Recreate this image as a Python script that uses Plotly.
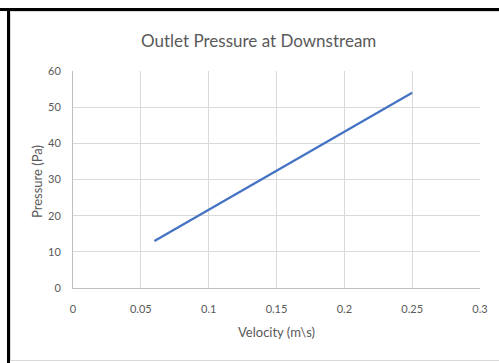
import plotly.graph_objects as go

# Data
velocity = [0.06, 0.25]
pressure = [13, 54]
x_ticks = [0, 0.05, 0.1, 0.15, 0.2, 0.25, 0.3]
x_tick_labels = ["0", "0.05", "0.1", "0.15", "0.2", "0.25", "0.3"]
y_ticks = [0, 10, 20, 30, 40, 50, 60]
title_text = "Outlet Pressure at Downstream"
x_title = "Velocity (m\\s)"
y_title = "Pressure (Pa)"

W, H = 499, 363
L, R, T, B = 73, 19, 71, 75
PW, PH = W - L - R, H - T - B

def px(x):
    return (x - L) / PW

def py(y):
    return (H - B - y) / PH

FONT = "Lato"
GRAY = "#595959"

fig = go.Figure()
fig.add_trace(go.Scatter(x=velocity, y=pressure, mode="lines",
                         line=dict(color="#4472C4", width=2.2), showlegend=False))

fig.update_layout(
    width=W, height=H,
    margin=dict(l=L, r=R, t=T, b=B),
    paper_bgcolor="white", plot_bgcolor="white",
    font=dict(family=FONT, color=GRAY),
    xaxis=dict(range=[0, 0.3], tickvals=x_ticks, ticktext=x_tick_labels,
               showgrid=True, gridcolor="#d9d9d9", gridwidth=1,
               showline=True, linecolor="#bfbfbf", linewidth=1, mirror=False,
               zeroline=False, ticks="", tickfont=dict(size=11, color=GRAY, family=FONT),
               ticklabelstandoff=11),
    yaxis=dict(range=[0, 60], tickvals=y_ticks,
               showgrid=True, gridcolor="#d9d9d9", gridwidth=1,
               showline=True, linecolor="#bfbfbf", linewidth=1,
               zeroline=False, ticks="", tickfont=dict(size=11, color=GRAY, family=FONT),
               ticklabelstandoff=9),
    annotations=[
        dict(text=title_text, x=px(258), y=py(40), xref="paper", yref="paper",
             showarrow=False, xanchor="center", yanchor="middle",
             font=dict(size=17, color=GRAY, family=FONT)),
        dict(text=x_title, x=px(276), y=py(332), xref="paper", yref="paper",
             showarrow=False, xanchor="center", yanchor="middle",
             font=dict(size=13, color=GRAY, family=FONT)),
        dict(text=y_title, x=px(37), y=py(182), xref="paper", yref="paper",
             showarrow=False, xanchor="center", yanchor="middle", textangle=-90,
             font=dict(size=13, color=GRAY, family=FONT)),
    ],
    shapes=[
        # outer black frame (top and left)
        dict(type="line", xref="paper", yref="paper", x0=px(0), x1=px(W), y0=py(9.5), y1=py(9.5),
             line=dict(color="black", width=3)),
        dict(type="line", xref="paper", yref="paper", x0=px(8.5), x1=px(8.5), y0=py(8), y1=py(H),
             line=dict(color="black", width=3)),
        # light gray chart frame
        dict(type="line", xref="paper", yref="paper", x0=px(10), x1=px(W), y0=py(11.5), y1=py(11.5),
             line=dict(color="#d9d9d9", width=1)),
        dict(type="line", xref="paper", yref="paper", x0=px(10.5), x1=px(10.5), y0=py(11), y1=py(361),
             line=dict(color="#d9d9d9", width=1)),
        dict(type="line", xref="paper", yref="paper", x0=px(10), x1=px(W), y0=py(360.5), y1=py(360.5),
             line=dict(color="#d9d9d9", width=1)),
    ],
)

fig.write_html("out.html")
